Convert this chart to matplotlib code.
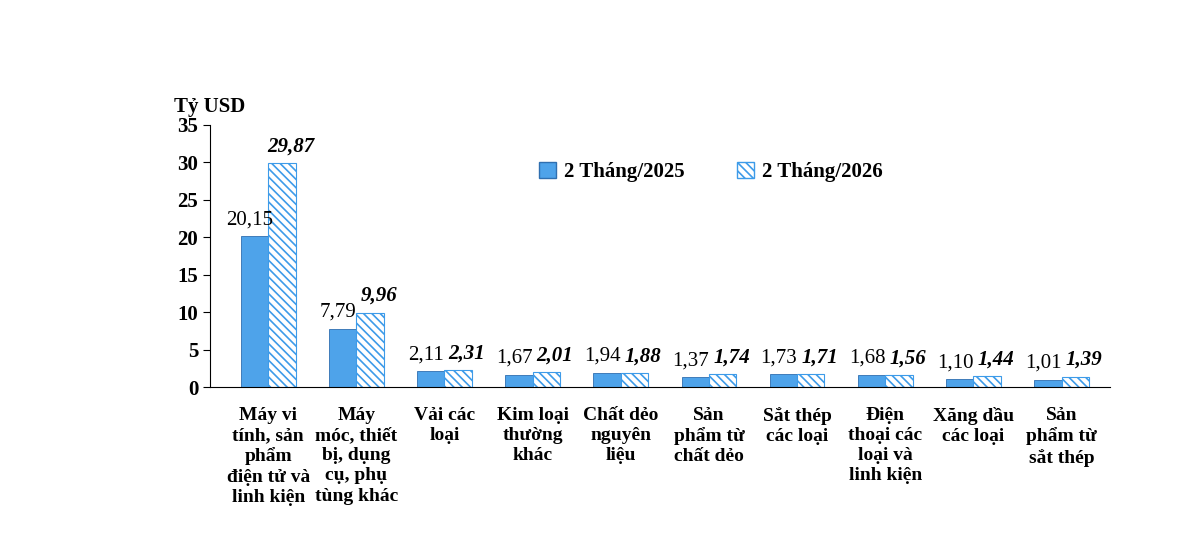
import numpy as np
import matplotlib.pyplot as plt
from matplotlib.patches import Patch

plt.rcParams['font.family'] = ['Liberation Serif', 'DejaVu Serif']
plt.rcParams['hatch.color'] = '#3d9be9'
plt.rcParams['hatch.linewidth'] = 1.2

categories = ['Máy vi\ntính, sản\nphẩm\nđiện tử và\nlinh kiện',
              'Máy\nmóc, thiết\nbị, dụng\ncụ, phụ\ntùng khác',
              'Vải các\nloại', 'Kim loại\nthường\nkhác', 'Chất dẻo\nnguyên\nliệu',
              'Sản\nphẩm từ\nchất dẻo', 'Sắt thép\ncác loại',
              'Điện\nthoại các\nloại và\nlinh kiện', 'Xăng dầu\ncác loại',
              'Sản\nphẩm từ\nsắt thép']
v2025 = [20.15, 7.79, 2.11, 1.67, 1.94, 1.37, 1.73, 1.68, 1.10, 1.01]
v2026 = [29.87, 9.96, 2.31, 2.01, 1.88, 1.74, 1.71, 1.56, 1.44, 1.39]

fig = plt.figure(figsize=(12, 5.43), dpi=100)
ax = fig.add_axes([0.175, 0.287, 0.75, 0.483])
x = np.arange(len(categories))
w = 0.31
blue = '#4ea3ea'
ax.bar(x - w/2, v2025, w, color=blue, edgecolor='#2f6fb0', linewidth=0.6)
ax.bar(x + w/2, v2026, w, color='white', edgecolor='#3d9be9', hatch='\\\\\\\\', linewidth=0.8)

for i in x:
    ax.text(i - w/2 - 0.05, v2025[i] + 0.9, f'{v2025[i]:.2f}'.replace('.', ','),
            ha='center', va='bottom', fontsize=15)
    ax.text(i + w/2 + 0.1, v2026[i] + 0.9, f'{v2026[i]:.2f}'.replace('.', ','),
            ha='center', va='bottom', fontsize=15, fontweight='bold', fontstyle='italic')

ax.set_xlim(-0.66, 9.55)
ax.set_ylim(0, 35)
ax.set_yticks(range(0, 36, 5))
ax.tick_params(axis='y', labelsize=15, direction='out', length=5)
for lab in ax.get_yticklabels():
    lab.set_fontweight('bold')
ax.set_xticks(x)
ax.set_xticklabels(categories, fontsize=14, fontweight='bold', linespacing=1.25)
ax.tick_params(axis='x', length=0, pad=14)
ax.spines['top'].set_visible(False)
ax.spines['right'].set_visible(False)
ax.text(-0.04, 1.03, 'Tỷ USD', transform=ax.transAxes, ha='left', va='bottom',
        fontsize=15, fontweight='bold')

handles = [Patch(facecolor=blue, edgecolor='#2f6fb0'),
           Patch(facecolor='white', edgecolor='#3d9be9', hatch='\\\\\\\\')]
ax.legend(handles, ['2 Tháng/2025', '2 Tháng/2026'], loc='upper left',
          bbox_to_anchor=(0.345, 0.93), ncol=2, frameon=False,
          prop={'size': 15, 'weight': 'bold'}, handlelength=0.8, handleheight=0.8,
          handletextpad=0.4, columnspacing=2.5)

fig.savefig('out.png', dpi=100)
